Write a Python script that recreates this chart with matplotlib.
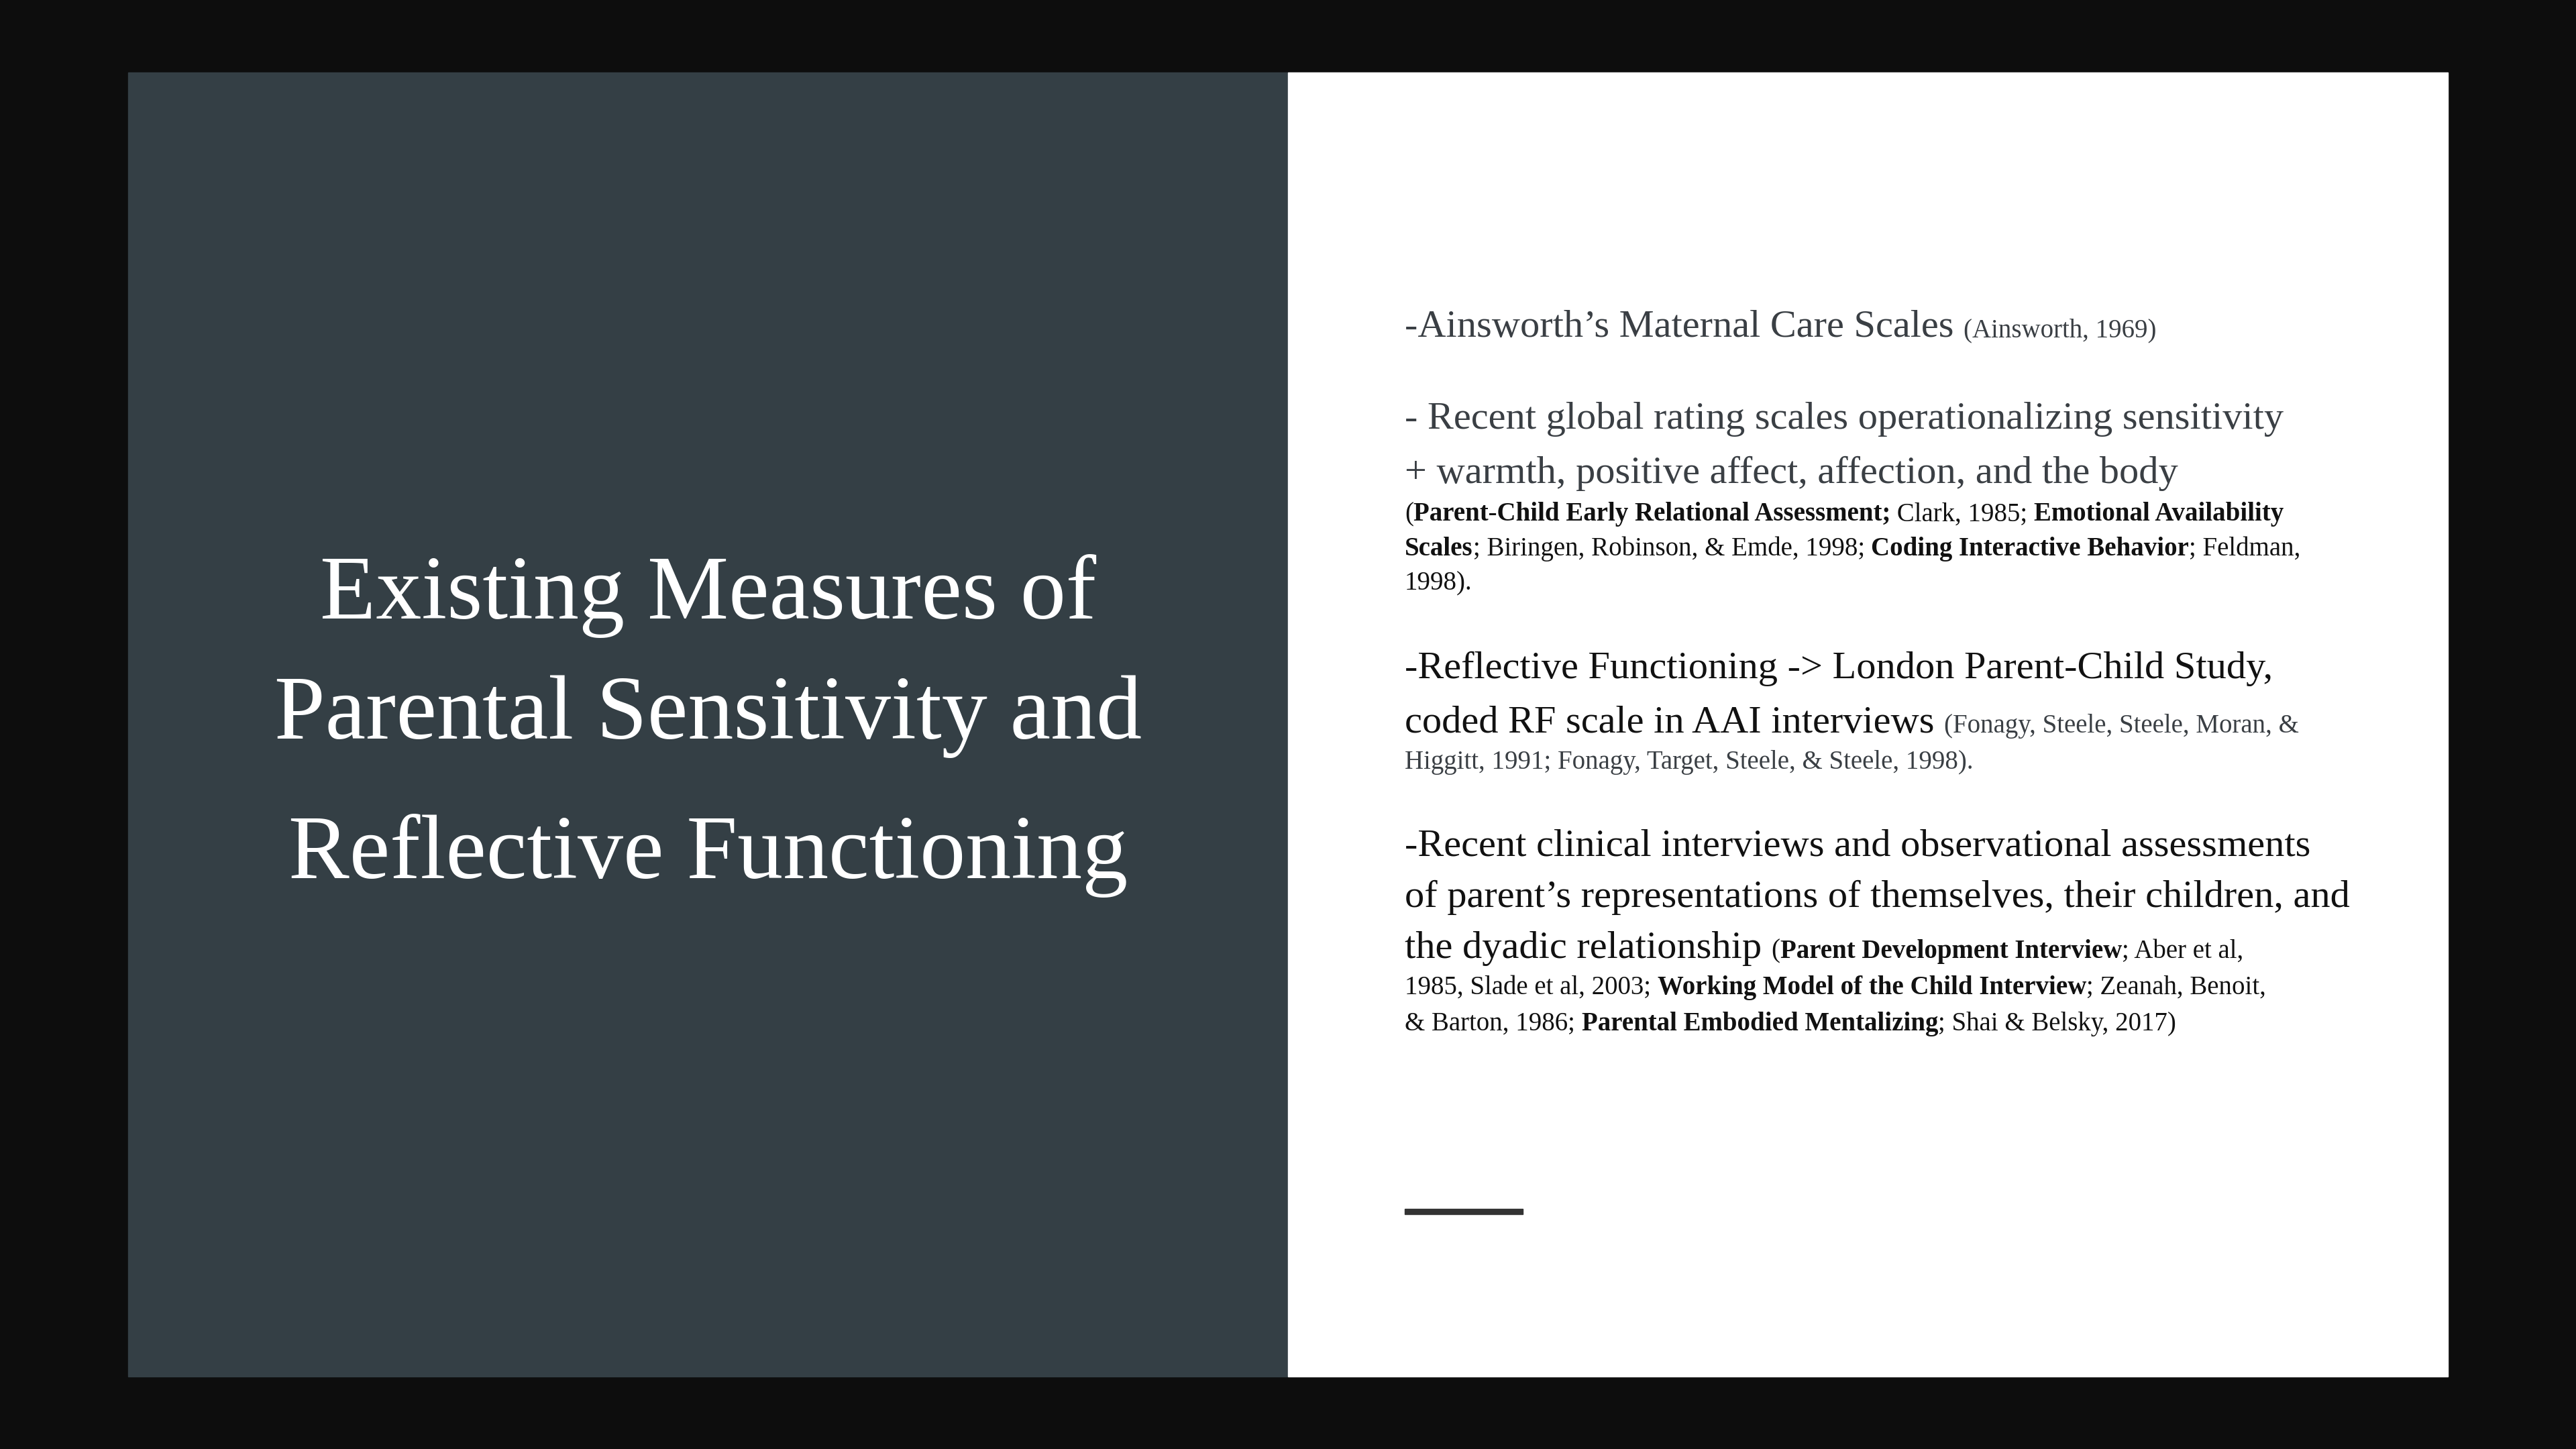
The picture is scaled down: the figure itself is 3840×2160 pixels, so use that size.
import matplotlib
matplotlib.use("Agg")
import matplotlib.pyplot as plt
from matplotlib.patches import Rectangle

W, H = 1568.0, 882.0  # layout measured in reference display units

title_lines = ["Existing Measures of", "Parental Sensitivity and", "Reflective Functioning"]
title_y = [363, 436, 521]

BIG, SMALL = 42, 28
N, B = "normal", "bold"
GREY, BLACK = "#3a3f44", "#111111"

# each line: baseline y, list of runs (text, size, weight, colour)
body = [
    (205, [("-Ainsworth\u2019s Maternal Care Scales ", BIG, N, GREY), ("(Ainsworth, 1969)", SMALL, N, GREY)]),
    (261, [("- Recent global rating scales operationalizing sensitivity", BIG, N, GREY)]),
    (294, [("+ warmth, positive affect, affection, and the body", BIG, N, GREY)]),
    (317, [("(", SMALL, N, BLACK), ("Parent-Child Early Relational Assessment;", SMALL, B, BLACK),
           (" Clark, 1985; ", SMALL, N, BLACK), ("Emotional Availability", SMALL, B, BLACK)]),
    (338, [("Scales", SMALL, B, BLACK), ("; Biringen, Robinson, & Emde, 1998; ", SMALL, N, BLACK),
           ("Coding Interactive Behavior", SMALL, B, BLACK), ("; Feldman,", SMALL, N, BLACK)]),
    (359, [("1998).", SMALL, N, BLACK)]),
    (413, [("-Reflective Functioning -> London Parent-Child Study,", BIG, N, BLACK)]),
    (446, [("coded RF scale in AAI interviews ", BIG, N, BLACK),
           ("(Fonagy, Steele, Steele, Moran, &", SMALL, N, GREY)]),
    (468, [("Higgitt, 1991; Fonagy, Target, Steele, & Steele, 1998).", SMALL, N, GREY)]),
    (521, [("-Recent clinical interviews and observational assessments", BIG, N, BLACK)]),
    (552, [("of parent\u2019s representations of themselves, their children, and", BIG, N, BLACK)]),
    (583, [("the dyadic relationship ", BIG, N, BLACK), ("(", SMALL, N, BLACK),
           ("Parent Development Interview", SMALL, B, BLACK), ("; Aber et al,", SMALL, N, BLACK)]),
    (605, [("1985, Slade et al, 2003; ", SMALL, N, BLACK), ("Working Model of the Child Interview", SMALL, B, BLACK),
           ("; Zeanah, Benoit,", SMALL, N, BLACK)]),
    (627, [("& Barton, 1986; ", SMALL, N, BLACK), ("Parental Embodied Mentalizing", SMALL, B, BLACK),
           ("; Shai & Belsky, 2017)", SMALL, N, BLACK)]),
]

plt.rcParams["font.family"] = ["Liberation Serif", "DejaVu Serif"]
fig = plt.figure(figsize=(38.4, 21.6), dpi=100, facecolor="#0d0d0d")

def fx(x):
    return x / W

def fy(y):
    return 1 - y / H

fig.patches.append(Rectangle((fx(78), fy(838)), fx(784) - fx(78), fy(44) - fy(838),
                             transform=fig.transFigure, color="#343f45", zorder=0))
fig.patches.append(Rectangle((fx(784), fy(838)), fx(1490) - fx(784), fy(44) - fy(838),
                             transform=fig.transFigure, color="white", zorder=0))

for line, y in zip(title_lines, title_y):
    fig.text(fx(431), fy(y), line, ha="center", va="center", fontsize=98, color="white")

renderer = fig.canvas.get_renderer()
for y, runs in body:
    x = fx(855)
    for text, size, weight, col in runs:
        t = fig.text(x, fy(y), text, ha="left", va="baseline", fontsize=size,
                     fontweight=weight, color=col)
        bb = t.get_window_extent(renderer)
        x = bb.x1 / fig.bbox.width

fig.patches.append(Rectangle((fx(855), fy(739)), fx(927) - fx(855), fy(736) - fy(739),
                             transform=fig.transFigure, color="#333333"))

fig.savefig("out.png", dpi=100, facecolor=fig.get_facecolor())
